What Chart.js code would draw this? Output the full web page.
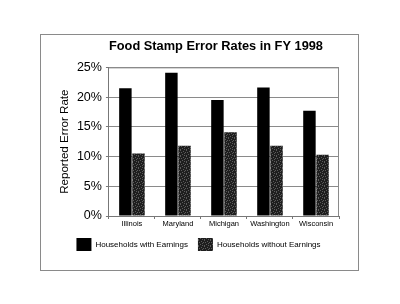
<!DOCTYPE html>
<html>
<head>
<meta charset="utf-8">
<style>
  html, body { margin: 0; padding: 0; background: #fff; }
  #wrap { position: relative; width: 400px; height: 304px; }
</style>
<script src="https://cdn.jsdelivr.net/npm/chart.js@4.4.1/dist/chart.umd.min.js"></script>
</head>
<body>
<div id="wrap"><canvas id="chart" width="400" height="304"></canvas></div>
<script>
// Food stamp error rates, FY 1998 (percent)
const states = ['Illinois', 'Maryland', 'Michigan', 'Washington', 'Wisconsin'];
const withEarnings = [21.5, 24.1, 19.5, 21.6, 17.7];
const withoutEarnings = [10.5, 11.8, 14.1, 11.8, 10.3];
const seriesNames = ['Households with Earnings', 'Households without Earnings'];

const FONT = "'Liberation Sans', Arial, Helvetica, sans-serif";

// speckled dark fill for the second series
function speckle() {
  const c = document.createElement('canvas');
  c.width = 6; c.height = 6;
  const g = c.getContext('2d');
  g.fillStyle = '#1e1e1e';
  g.fillRect(0, 0, 6, 6);
  g.fillStyle = '#5a5a5a';
  [[0,0],[3,1],[1,2],[5,2],[2,4],[4,3],[0,5],[4,5]].forEach(([x, y]) => g.fillRect(x, y, 1, 1));
  return g.createPattern(c, 'repeat');
}

// outer frame + plot border
const framePlugin = {
  id: 'frame',
  beforeDraw(chart) {
    const ctx = chart.ctx;
    ctx.save();
    ctx.strokeStyle = '#8a8a8a';
    ctx.lineWidth = 1;
    ctx.strokeRect(40.5, 34.5, 318, 236);
    ctx.restore();
  },
  afterDatasetsDraw(chart) {
    const { ctx, chartArea: a } = chart;
    ctx.save();
    ctx.strokeStyle = '#8a8a8a';
    ctx.lineWidth = 1;
    ctx.beginPath();
    ctx.moveTo(a.left, a.top + 0.5);
    ctx.lineTo(a.right - 0.5, a.top + 0.5);
    ctx.lineTo(a.right - 0.5, a.bottom);
    ctx.stroke();
    ctx.restore();
  }
};

new Chart(document.getElementById('chart'), {
  type: 'bar',
  data: {
    labels: states,
    datasets: [
      {
        label: seriesNames[0],
        data: withEarnings,
        backgroundColor: '#000',
        categoryPercentage: 0.57,
        barPercentage: 0.95
      },
      {
        label: seriesNames[1],
        data: withoutEarnings,
        backgroundColor: speckle(),
        categoryPercentage: 0.57,
        barPercentage: 0.95
      }
    ]
  },
  options: {
    responsive: false,
    animation: false,
    layout: { padding: { top: 39, left: 58, right: 61, bottom: 43 } },
    plugins: {
      title: {
        display: true,
        fullSize: false,
        align: 'start',
        text: 'Food Stamp Error Rates in FY 1998',
        color: '#000',
        font: { family: FONT, size: 12.8, weight: 'bold' },
        padding: { top: 0, bottom: 13 }
      },
      legend: {
        position: 'bottom',
        labels: {
          color: '#000',
          font: { family: FONT, size: 8 },
          boxWidth: 15,
          boxHeight: 13,
          padding: 10
        }
      },
      tooltip: { enabled: false }
    },
    scales: {
      x: {
        grid: { display: true, drawOnChartArea: false, offset: true, color: '#777', tickLength: 3 },
        border: { display: true, color: '#777' },
        ticks: { color: '#000', font: { family: FONT, size: 7.5 }, maxRotation: 0, padding: 0 }
      },
      y: {
        min: 0,
        max: 25,
        grid: {
          color: ctx => (ctx.tick && ctx.tick.value % 5 === 0 ? '#8a8a8a' : 'rgba(0,0,0,0)'),
          tickColor: '#777',
          tickLength: 3
        },
        border: { display: true, color: '#777' },
        ticks: {
          stepSize: 2.5,
          color: '#000',
          font: { family: FONT, size: 12.5 },
          padding: 4,
          callback: v => (v % 5 === 0 ? v + '%' : '')
        },
        title: {
          display: true,
          text: 'Reported Error Rate',
          color: '#000',
          font: { family: FONT, size: 11.6 },
          padding: { top: 0, bottom: 1 }
        }
      }
    }
  },
  plugins: [framePlugin]
});
</script>
</body>
</html>
